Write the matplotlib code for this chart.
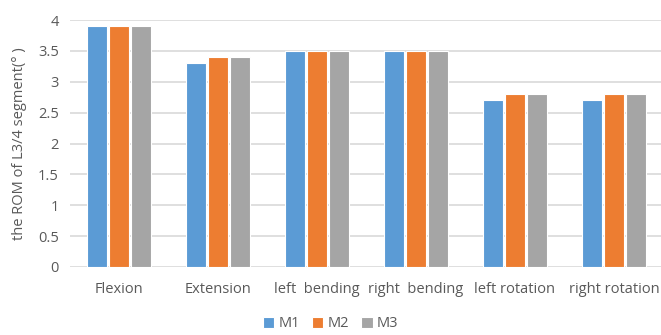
import matplotlib
matplotlib.use("Agg")
import matplotlib.pyplot as plt
import numpy as np

categories = ["Flexion", "Extension", "left  bending", "right  bending", "left rotation", "right rotation"]
series_names = ["M1", "M2", "M3"]
m1 = [3.9, 3.3, 3.5, 3.5, 2.7, 2.7]
m2 = [3.9, 3.4, 3.5, 3.5, 2.8, 2.8]
m3 = [3.9, 3.4, 3.5, 3.5, 2.8, 2.8]
yticks = [0, 0.5, 1, 1.5, 2, 2.5, 3, 3.5, 4]
ytick_labels = ["0", "0.5", "1", "1.5", "2", "2.5", "3", "3.5", "4"]

colors = ["#5B9BD5", "#ED7D31", "#A5A5A5"]
text_color = "#595959"

plt.rcParams["font.family"] = ["Open Sans", "DejaVu Sans"]

fig = plt.figure(figsize=(6.61, 3.35), dpi=100)
ax = fig.add_axes([0.106, 0.203, 0.894, 0.737])

x = np.arange(len(categories))
offset = 0.222
width = 0.2
for i, (vals, name, c) in enumerate(zip([m1, m2, m3], series_names, colors)):
    ax.bar(x + (i - 1) * offset, vals, width, color=c, label=name,
           edgecolor="white", linewidth=0.8, zorder=3)

ax.set_ylim(0, 4)
ax.set_xlim(-0.495, 5.475)
ax.set_yticks(yticks)
ax.set_yticklabels(ytick_labels)
ax.set_xticks(x)
ax.set_xticklabels(categories)
ax.yaxis.grid(True, color="#D9D9D9", linewidth=1.2, zorder=0)
ax.set_axisbelow(True)
for s in ax.spines.values():
    s.set_visible(False)
ax.tick_params(axis="both", length=0, colors=text_color, labelsize=10.5)
ax.tick_params(axis="y", pad=8)
ax.tick_params(axis="x", pad=11)

ax.set_ylabel("the ROM of L3/4 segment(° )", color=text_color, fontsize=10.5, labelpad=8)

leg = fig.legend(loc="lower center", bbox_to_anchor=(0.5, -0.028), ncol=3, frameon=False,
                 fontsize=10.5, handlelength=0.8, handleheight=0.8, handletextpad=0.3,
                 columnspacing=0.8, labelcolor=text_color)

fig.savefig("out.png", dpi=100)
